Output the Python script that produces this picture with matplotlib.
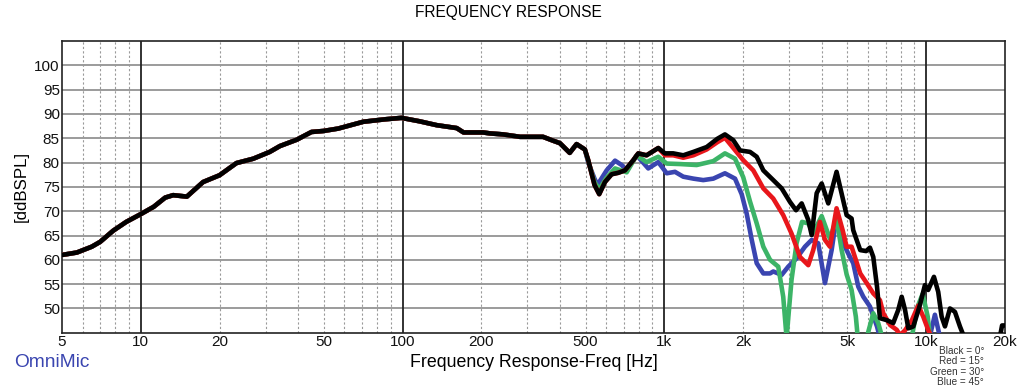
import matplotlib.pyplot as plt
import matplotlib.ticker as mticker
import numpy as np

plt.rcParams['font.family'] = ['Liberation Sans', 'DejaVu Sans']

# common part of all four curves (below ~500 Hz)
freq_base = [5, 5.7, 6.5, 7.0, 7.85, 8.8, 10, 11.2, 12.4, 13.3, 15.0, 17.3, 20,
             23.2, 26.9, 31.1, 34, 39.4, 44.9, 49.8, 56.8, 70.8, 85.6, 99, 116,
             135, 161, 171, 203, 216, 242, 281, 344, 376, 399, 435, 462, 497]
db_base = [61.0, 61.5, 62.7, 63.7, 66.0, 67.8, 69.4, 70.9, 72.8, 73.3, 73.0, 76.0, 77.4,
           79.9, 80.8, 82.2, 83.4, 84.7, 86.3, 86.5, 87.0, 88.4, 88.9, 89.2, 88.5,
           87.7, 87.1, 86.2, 86.2, 86.0, 85.8, 85.3, 85.3, 84.5, 84.0, 82.0, 83.8, 82.7]

# Black = 0 deg
freq_black = [512, 541, 564, 593, 629, 667, 707, 761, 795, 855, 948, 1005, 1081, 1181,
              1291, 1451, 1594, 1704, 1834, 1946, 2124, 2253, 2388, 2606, 2806, 3020,
              3184, 3346, 3546, 3654, 3818, 3990, 4228, 4548, 4818, 4969, 5190, 5266,
              5600, 5900, 6099, 6281, 6490, 6660, 7060, 7487, 7825, 8065, 8305, 8549,
              8933, 9467, 9892, 10180, 10710, 11120, 11460, 11800, 12330, 12880, 13460,
              13870, 15000, 18500, 19500, 20000]
db_black = [80.5, 75.4, 73.5, 76.0, 77.6, 77.9, 78.4, 80.5, 81.9, 81.5, 83.0, 81.9, 81.9, 81.5,
            82.2, 83.2, 84.9, 85.8, 84.6, 82.5, 82.2, 81.2, 78.4, 76.4, 74.7, 71.9,
            70.2, 71.6, 68.2, 65.1, 73.7, 75.7, 71.6, 78.1, 72.3, 69.2, 68.5, 66.1,
            62.0, 61.8, 62.5, 60.6, 54.5, 48.0, 47.6, 47.0, 49.7, 52.4, 49.7, 45.9,
            46.3, 50.7, 54.8, 53.8, 56.5, 53.4, 48.3, 46.3, 50.0, 49.3, 46.3,
            44.5, 40.0, 40.0, 46.5, 46.5]

# Red = 15 deg
freq_red = [512, 541, 564, 593, 629, 667, 707, 761, 795, 855, 948, 1005, 1081, 1181,
            1291, 1451, 1594, 1704, 1834, 2001, 2186, 2388, 2606, 2845, 3061, 3296,
            3546, 3704, 3928, 4107, 4291, 4548, 4797, 4969, 5190, 5600, 5930, 6281,
            6660, 6860, 7280, 7720, 7950, 8305, 8825, 9330, 9750, 10180, 10500, 20000]
db_red = [80.5, 75.4, 73.5, 76.0, 77.6, 77.9, 78.4, 80.5, 81.9, 81.5, 83.0, 81.5, 81.5, 81.0,
          81.5, 82.7, 84.2, 85.1, 83.0, 80.5, 78.4, 74.7, 72.6, 69.2, 65.4, 60.6,
          58.9, 62.0, 67.8, 64.1, 62.7, 70.6, 66.1, 62.7, 62.7, 57.2, 55.2, 53.1,
          51.7, 49.0, 46.6, 45.6, 44.5, 45.5, 47.6, 50.6, 48.3, 45.6, 44.0, 44.0]

# Green = 30 deg
freq_green = [512, 541, 564, 600, 648, 718, 784, 855, 948, 1021, 1148, 1329, 1538, 1704,
              1862, 2001, 2124, 2253, 2388, 2533, 2723, 2845, 2930, 3061, 3199, 3356,
              3546, 3704, 3990, 4291, 4548, 4756, 4969, 5190, 5389, 5480, 5930, 6281,
              6560, 6800, 8800, 9280, 9700, 10140, 10350, 20000]
db_green = [80.3, 76.0, 74.5, 76.8, 78.8, 78.0, 81.5, 80.1, 81.2, 79.8, 79.7, 79.5, 80.3, 81.9,
            80.8, 77.0, 72.0, 67.5, 62.7, 60.0, 58.6, 52.4, 44.0, 55.9, 63.4, 67.8,
            67.5, 65.5, 69.0, 64.3, 68.5, 62.0, 57.0, 53.8, 48.3, 44.0, 44.0, 49.0,
            47.0, 44.0, 44.0, 50.4, 53.0, 48.3, 44.0, 44.0]

# Blue = 45 deg
freq_blue = [512, 541, 555, 602, 648, 687, 718, 784, 868, 948, 1021, 1098, 1181, 1291,
             1408, 1538, 1704, 1862, 1974, 2063, 2157, 2253, 2388, 2533, 2606, 2806,
             2974, 3199, 3444, 3654, 3871, 4107, 4355, 4548, 4756, 5039, 5266, 5504,
             5755, 6099, 6490, 6660, 10300, 10800, 11300, 20000]
db_blue = [80.0, 76.7, 75.4, 78.4, 80.4, 79.5, 78.4, 81.5, 78.8, 80.1, 77.8, 78.1, 77.1, 76.7,
           76.4, 76.7, 77.8, 76.7, 73.5, 69.5, 64.1, 59.3, 57.2, 57.2, 57.6, 56.9,
           58.6, 60.3, 62.7, 64.1, 63.4, 55.2, 62.0, 68.9, 64.1, 61.3, 59.3, 54.5,
           52.4, 50.4, 46.3, 44.0, 44.0, 48.7, 44.0, 44.0]

tick_freqs = [5, 10, 20, 50, 100, 200, 500, 1000, 2000, 5000, 10000, 20000]
tick_labels = ['5', '10', '20', '50', '100', '200', '500', '1k', '2k', '5k', '10k', '20k']
decades = [10, 100, 1000, 10000]

fig = plt.figure(figsize=(10.24, 3.91), dpi=100)
ax = fig.add_axes([0.0605, 0.149, 0.9209, 0.746])

ax.set_xscale('log')
ax.set_xlim(5, 20000)
ax.set_ylim(45, 105)

# grid
for v in range(50, 105, 5):
    ax.axhline(v, color='#8a8a8a', lw=1.2, zorder=1)
minor = [m * 10 ** e for e in range(0, 5) for m in range(2, 10)]
for f in minor:
    if 5 < f < 20000 and f not in decades:
        ax.axvline(f, color='#9a9a9a', lw=0.8, ls=(0, (2, 2)), zorder=1)
for f in decades:
    ax.axvline(f, color='#222222', lw=1.3, zorder=1)

colors = {'blue': '#3a45b0', 'green': '#3cb467', 'red': '#e8161b', 'black': '#000000'}
series = [('blue', freq_blue, db_blue), ('green', freq_green, db_green),
          ('red', freq_red, db_red), ('black', freq_black, db_black)]
for name, fr, db in series:
    ax.plot(freq_base + fr, db_base + db, color=colors[name], lw=3.3,
            solid_joinstyle='round', zorder=3)

ax.xaxis.set_major_locator(mticker.FixedLocator(tick_freqs))
ax.xaxis.set_major_formatter(mticker.FixedFormatter(tick_labels))
ax.xaxis.set_minor_locator(mticker.NullLocator())
ax.set_yticks(range(50, 105, 5))
ax.tick_params(axis='both', length=0, labelsize=11, colors='#111111', pad=1.5)

for s in ax.spines.values():
    s.set_color('#222222')
    s.set_linewidth(1.2)

fig.text(0.496, 0.968, 'FREQUENCY RESPONSE', ha='center', va='center', fontsize=11.2)
ax.set_xlabel('Frequency Response-Freq [Hz]', fontsize=12.8, labelpad=4)
ax.set_ylabel('[ddBSPL]', fontsize=12.2, labelpad=4)
fig.text(0.014, 0.072, 'OmniMic', color='#3a45b0', fontsize=13.8, ha='left', va='center')
legend_lines = ['Black = 0°', 'Red = 15°', 'Green = 30°', 'Blue = 45°']
for i, t in enumerate(legend_lines):
    fig.text(0.961, 0.103 - i * 0.027, t, ha='right', va='center', fontsize=7.2, color='#333333')

fig.savefig('out.png', dpi=100)
